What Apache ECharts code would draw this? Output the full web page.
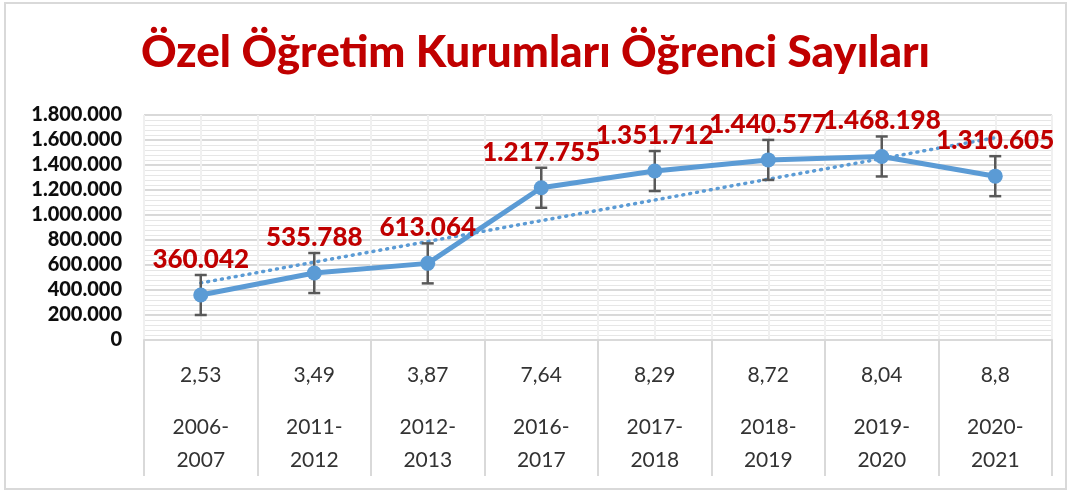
<!DOCTYPE html>
<html>
<head>
<meta charset="utf-8">
<script src="https://cdn.jsdelivr.net/npm/echarts@6/dist/echarts.min.js"></script>
<style>
  html, body { margin: 0; padding: 0; background: #fff; }
  #chart { width: 1071px; height: 493px; }
</style>
</head>
<body>
<div id="chart"></div>
<script>
// values
const periods = ['2006-\n2007', '2011-\n2012', '2012-\n2013', '2016-\n2017', '2017-\n2018', '2018-\n2019', '2019-\n2020', '2020-\n2021']
const ratios = ['2,53', '3,49', '3,87', '7,64', '8,29', '8,72', '8,04', '8,8']
const students = [360042, 535788, 613064, 1217755, 1351712, 1440577, 1468198, 1310605]
const errors = [160000, 160000, 160000, 160000, 160000, 160000, 160000, 160000]
// dotted linear trend, first and last point
const trendEnds = [456700, 1617700]
const yTicks = { min: 0, max: 1800000, interval: 200000 }

const fmt = v => String(v).replace(/\B(?=(\d{3})+(?!\d))/g, '.')

const trendData = students.map((_, i) => i === 0 ? trendEnds[0] : (i === students.length - 1 ? trendEnds[1] : null))
const errData = students.map((v, i) => [i, v - errors[i], v + errors[i]])

const chart = echarts.init(document.getElementById('chart'))

const option = {
  backgroundColor: '#fff',
  animation: false,
  textStyle: { fontFamily: 'Lato' },
  graphic: [{
    type: 'rect',
    shape: { x: 5, y: 3, width: 1061, height: 486 },
    style: { fill: 'none', stroke: '#d9d9d9', lineWidth: 2 },
    z: -10
  }],
  title: {
    text: 'Özel Öğretim Kurumları Öğrenci Sayıları',
    left: 'center',
    top: 26,
    textStyle: {
      color: '#C00000',
      fontFamily: 'Lato',
      fontWeight: 900,
      fontSize: 44
    }
  },
  grid: {
    left: 144,
    right: 19,
    top: 115,
    bottom: 153
  },
  xAxis: [{
    type: 'category',
    data: periods,
    boundaryGap: true,
    axisLine: { show: true, lineStyle: { color: '#d9d9d9', width: 2 } },
    axisTick: {
      show: true,
      length: 136,
      alignWithLabel: false,
      lineStyle: { color: '#d9d9d9', width: 2 }
    },
    splitLine: { show: true, lineStyle: { color: '#d9d9d9', width: 2 } },
    axisLabel: {
      margin: 0,
      interval: 0,
      formatter: (v, i) => {
        const p = v.split('\n')
        return '{a|' + ratios[i] + '}\n{b|' + p[0] + '}\n{b|' + p[1] + '}'
      },
      rich: {
        a: { fontSize: 21, lineHeight: 71, color: '#333', fontFamily: 'Lato' },
        b: { fontSize: 21, lineHeight: 33, color: '#333', fontFamily: 'Lato' }
      }
    }
  }, {
    // light lines through the category centres
    type: 'value',
    min: 0,
    max: 16,
    interval: 1,
    show: true,
    position: 'bottom',
    axisLine: { show: false },
    axisTick: { show: false },
    axisLabel: { show: false },
    splitLine: { show: true, lineStyle: { color: '#f0f0f0', width: 2 } }
  }],
  yAxis: {
    type: 'value',
    min: yTicks.min,
    max: yTicks.max,
    interval: yTicks.interval,
    axisLine: { show: false },
    axisTick: { show: false },
    axisLabel: {
      formatter: v => fmt(v),
      color: '#0d0d0d',
      fontWeight: 900,
      fontSize: 20,
      margin: 22,
      fontFamily: 'Lato'
    },
    splitLine: { lineStyle: { color: '#d9d9d9', width: 2 } },
    minorTick: { show: false, splitNumber: 5 },
    minorSplitLine: { show: true, lineStyle: { color: '#e6e6e6', width: 1 } }
  },
  series: [{
    name: 'trend',
    type: 'line',
    data: trendData,
    connectNulls: true,
    symbol: 'none',
    silent: true,
    lineStyle: { color: '#5B9BD5', width: 3.5, type: [1, 6], cap: 'round' },
    z: 3
  }, {
    name: 'err',
    type: 'custom',
    data: errData,
    z: 4,
    renderItem: (params, api) => {
      const lo = api.coord([api.value(0), api.value(1)])
      const hi = api.coord([api.value(0), api.value(2)])
      const c = 6
      const st = { stroke: '#595959', lineWidth: 2.5 }
      return {
        type: 'group',
        children: [
          { type: 'line', shape: { x1: lo[0], y1: lo[1], x2: hi[0], y2: hi[1] }, style: st },
          { type: 'line', shape: { x1: lo[0] - c, y1: lo[1], x2: lo[0] + c, y2: lo[1] }, style: st },
          { type: 'line', shape: { x1: hi[0] - c, y1: hi[1], x2: hi[0] + c, y2: hi[1] }, style: st }
        ]
      }
    }
  }, {
    name: 'Öğrenci',
    type: 'line',
    data: students,
    symbol: 'circle',
    symbolSize: 15,
    lineStyle: { color: '#5B9BD5', width: 5 },
    itemStyle: { color: '#5B9BD5' },
    z: 5,
    label: {
      show: true,
      position: 'top',
      distance: 15,
      formatter: p => fmt(p.value),
      color: '#C00000',
      fontWeight: 900,
      fontSize: 26,
      fontFamily: 'Lato'
    }
  }]
}

chart.setOption(option)
</script>
</body>
</html>
